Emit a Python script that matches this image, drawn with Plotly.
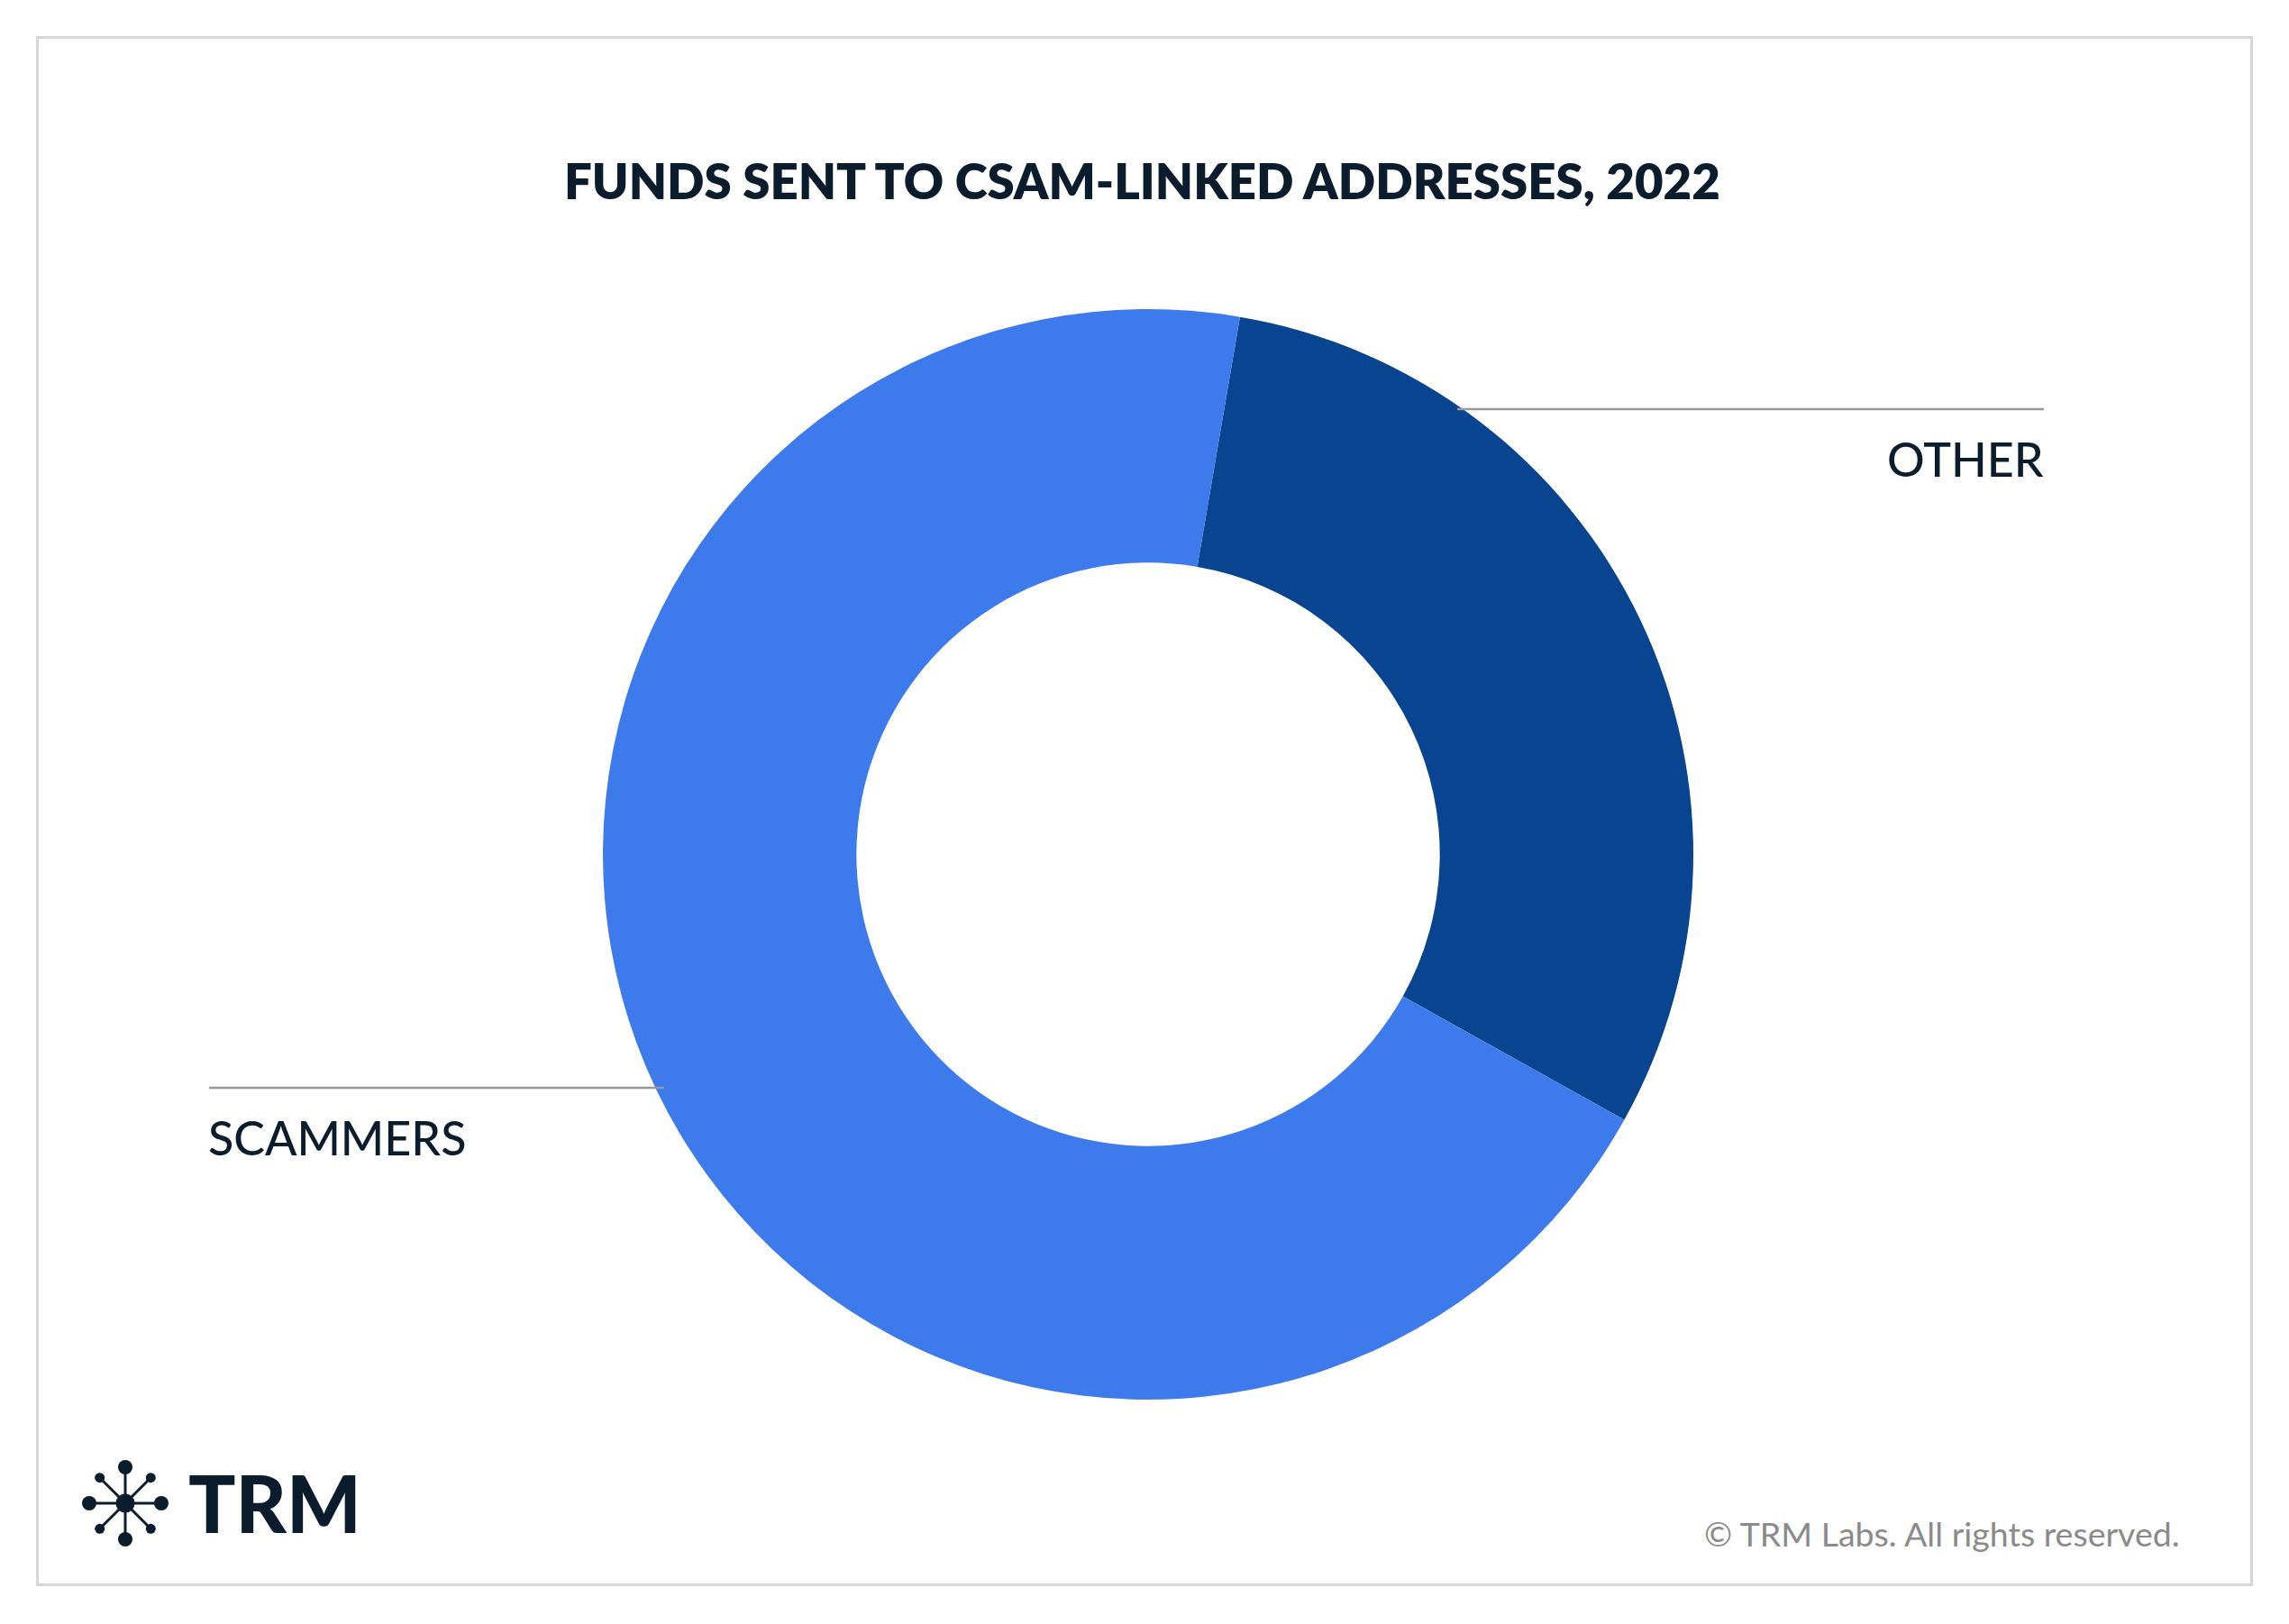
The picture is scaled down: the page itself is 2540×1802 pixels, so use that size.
import plotly.graph_objects as go
import math

W, H = 2540, 1802

categories = ["OTHER", "SCAMMERS"]
values = [30.4, 69.6]
colors = ["#08448f", "#3d7aeb"]

title_text = "FUNDS SENT TO CSAM-LINKED ADDRESSES, 2022"
copyright_text = "© TRM Labs. All rights reserved."
logo_text = "TRM"

TXT = "#0b1c2c"

def px(x):
    return x / W

def py(y):
    return 1 - y / H

cx, cy, R = 1274, 948, 605

fig = go.Figure()
fig.add_trace(go.Pie(
    labels=categories,
    values=values,
    hole=0.535,
    sort=False,
    direction="clockwise",
    rotation=9.7,
    marker=dict(colors=colors, line=dict(width=0)),
    textinfo="none",
    hoverinfo="skip",
    showlegend=False,
    domain=dict(x=[px(cx - R), px(cx + R)], y=[py(cy + R), py(cy - R)]),
))

shapes = []
# border
shapes.append(dict(type="rect", xref="paper", yref="paper",
                   x0=px(41.5), x1=px(2498.5), y0=py(1758.5), y1=py(41.5),
                   line=dict(color="#d6d6d6", width=3), fillcolor="rgba(0,0,0,0)", layer="below"))
# leader lines
shapes.append(dict(type="line", xref="paper", yref="paper",
                   x0=px(1617), x1=px(2268), y0=py(454), y1=py(454),
                   line=dict(color="#999999", width=2.5)))
shapes.append(dict(type="line", xref="paper", yref="paper",
                   x0=px(232), x1=px(737), y0=py(1207), y1=py(1207),
                   line=dict(color="#999999", width=2.5)))

# logo icon
lx, ly = 139, 1668
spokes = [(0, 40, 8), (90, 40, 8), (180, 40, 8), (270, 40, 8),
          (45, 40, 5.5), (135, 40, 5.5), (225, 40, 5.5), (315, 40, 5.5)]
for ang, dist, r in spokes:
    a = math.radians(ang)
    ex, ey = lx + dist * math.cos(a), ly + dist * math.sin(a)
    shapes.append(dict(type="line", xref="paper", yref="paper",
                       x0=px(lx), y0=py(ly), x1=px(ex), y1=py(ey),
                       line=dict(color=TXT, width=3)))
    shapes.append(dict(type="circle", xref="paper", yref="paper",
                       x0=px(ex - r), x1=px(ex + r), y0=py(ey + r), y1=py(ey - r),
                       fillcolor=TXT, line=dict(width=0)))
shapes.append(dict(type="circle", xref="paper", yref="paper",
                   x0=px(lx - 10.5), x1=px(lx + 10.5), y0=py(ly + 10.5), y1=py(ly - 10.5),
                   fillcolor=TXT, line=dict(width=0)))

annotations = [
    dict(text=title_text, x=px(1267), y=py(200), xref="paper", yref="paper",
         xanchor="center", yanchor="middle", showarrow=False,
         font=dict(family="Lato", size=54.5, color=TXT, weight=800)),
    dict(text=categories[0], x=px(2270), y=py(509), xref="paper", yref="paper",
         xanchor="right", yanchor="middle", showarrow=False,
         font=dict(family="Lato", size=52, color=TXT, weight=500)),
    dict(text=categories[1], x=px(229), y=py(1262), xref="paper", yref="paper",
         xanchor="left", yanchor="middle", showarrow=False,
         font=dict(family="Lato", size=52, color=TXT, weight=500)),
    dict(text=logo_text, x=px(207), y=py(1667), xref="paper", yref="paper",
         xanchor="left", yanchor="middle", showarrow=False,
         font=dict(family="Lato", size=87, color=TXT, weight=900)),
    dict(text=copyright_text, x=px(2421), y=py(1701), xref="paper", yref="paper",
         xanchor="right", yanchor="middle", showarrow=False,
         font=dict(family="Lato", size=37.5, color="#8a8a8a", weight=400)),
]

fig.update_layout(
    width=W, height=H,
    margin=dict(l=0, r=0, t=0, b=0),
    paper_bgcolor="white",
    plot_bgcolor="white",
    shapes=shapes,
    annotations=annotations,
)

fig.write_html("out.html", config={"displayModeBar": False},
               post_script="document.body.style.margin='0';document.body.style.overflow='hidden';")
